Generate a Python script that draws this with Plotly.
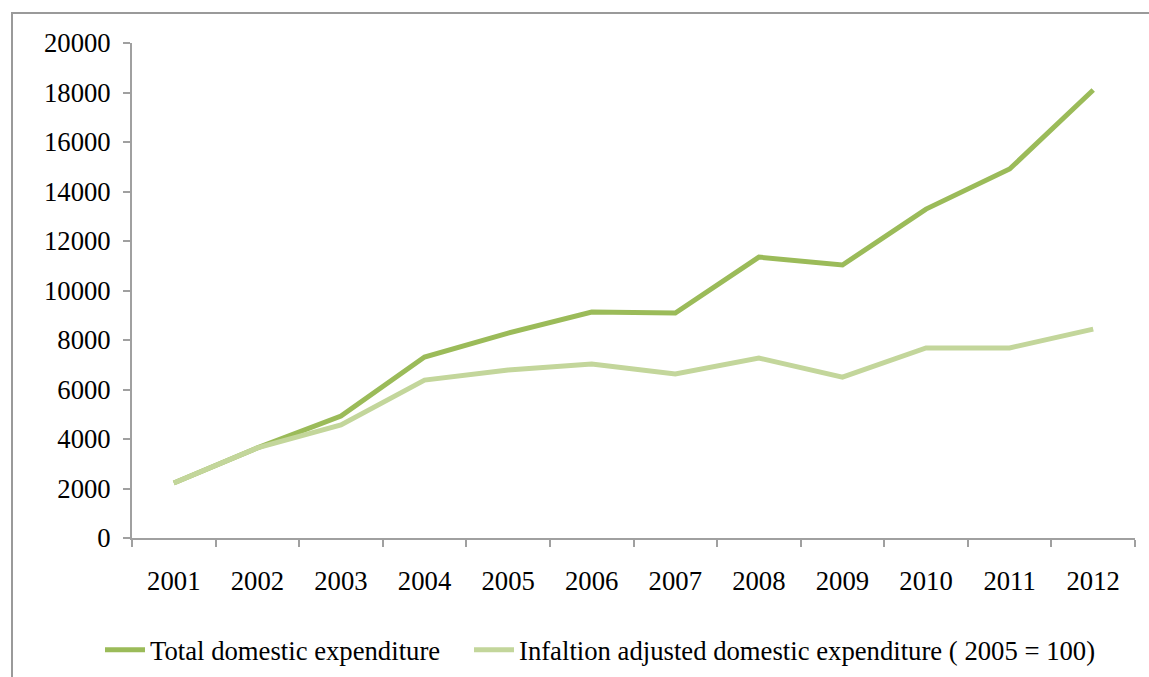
import plotly.graph_objects as go

years = ["2001", "2002", "2003", "2004", "2005", "2006",
         "2007", "2008", "2009", "2010", "2011", "2012"]
total_expenditure = [2220, 3640, 4930, 7310, 8280, 9130,
                     9090, 11350, 11030, 13290, 14910, 18100]
adjusted_expenditure = [2220, 3640, 4570, 6380, 6790, 7030,
                        6630, 7270, 6500, 7680, 7680, 8440]
y_ticks = [0, 2000, 4000, 6000, 8000, 10000, 12000, 14000, 16000, 18000, 20000]

W, H = 1149, 677
ML, MR, MT, MB = 132, 14, 43, 139
PW, PH = W - ML - MR, H - MT - MB

def px_x(p):
    return (p - ML) / PW

def px_y(p):
    return (H - MB - p) / PH

font_family = "Liberation Serif"
font_size = 26.7
axis_grey = "#A0A0A0"

fig = go.Figure()
fig.add_trace(go.Scatter(
    x=years, y=total_expenditure, mode="lines",
    name="Total domestic expenditure",
    line=dict(color="#9BBB59", width=5),
    legend="legend",
))
fig.add_trace(go.Scatter(
    x=years, y=adjusted_expenditure, mode="lines",
    name="Infaltion adjusted domestic expenditure ( 2005 = 100)",
    line=dict(color="#C3D69B", width=5),
    legend="legend2",
))

legend_common = dict(
    orientation="h", xanchor="left", y=px_y(650), yanchor="middle",
    font=dict(family=font_family, size=font_size), itemwidth=40,
    bgcolor="rgba(0,0,0,0)",
)

fig.update_layout(
    width=W, height=H,
    margin=dict(l=ML, r=MR, t=MT, b=MB, autoexpand=False),
    paper_bgcolor="white", plot_bgcolor="white",
    font=dict(family=font_family, size=font_size, color="black"),
    showlegend=True,
    legend=dict(x=px_x(100), **legend_common),
    legend2=dict(x=px_x(469), **legend_common),
    xaxis=dict(
        type="category", range=[-0.5, 11.5], automargin=False,
        showgrid=False, zeroline=False,
        showline=True, linecolor=axis_grey, linewidth=2,
        ticks="outside", tickson="boundaries", ticklen=7,
        tickcolor=axis_grey, tickwidth=2,
        ticklabelstandoff=18,
    ),
    yaxis=dict(
        range=[0, 20000], tickvals=y_ticks, automargin=False,
        ticktext=[str(v) for v in y_ticks],
        showgrid=False, zeroline=False,
        showline=True, linecolor=axis_grey, linewidth=2,
        ticks="outside", ticklen=7, tickcolor=axis_grey, tickwidth=2,
        ticklabelstandoff=7,
    ),
    shapes=[dict(
        type="rect", xref="paper", yref="paper",
        x0=px_x(12), x1=px_x(1160), y0=px_y(690), y1=px_y(13),
        line=dict(color="#9A9A9A", width=2), fillcolor="rgba(0,0,0,0)",
        layer="below",
    )],
)

fig.write_html("out.html")
